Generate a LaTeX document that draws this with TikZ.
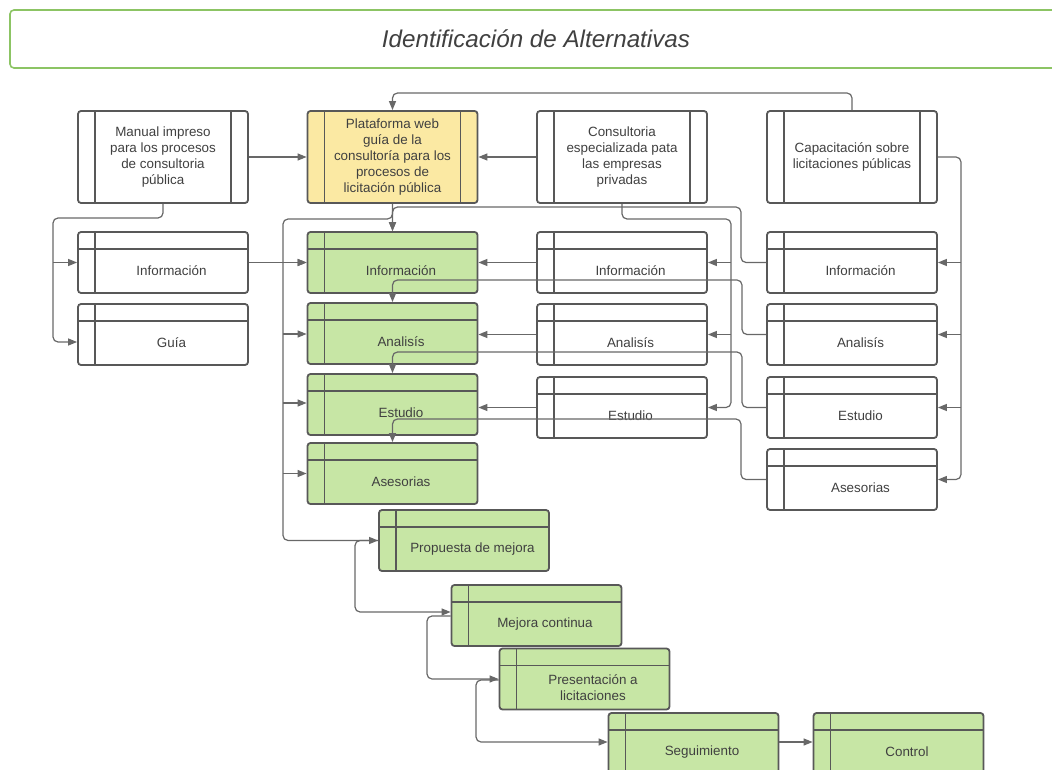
\documentclass[tikz,border=0pt]{standalone}
\usepackage{fontspec}
\setmainfont{Liberation Sans}
\usetikzlibrary{arrows.meta,calc}

\definecolor{edge}{RGB}{88,88,88}
\definecolor{wire}{RGB}{104,104,104}
\definecolor{ink}{RGB}{64,64,64}
\definecolor{leaf}{RGB}{199,230,165}
\definecolor{sand}{RGB}{251,233,163}
\definecolor{frame}{RGB}{140,196,100}

\tikzset{
  base/.style={draw=edge, line width=1.8pt, rounded corners=3pt, inner sep=0pt, fill=white},
  procbox/.style={base, minimum width=170pt, minimum height=92pt, text=ink, align=center,
    font=\fontsize{13.4}{16}\selectfont,
    path picture={
      \draw[edge,line width=1.9pt] ([xshift=17pt]path picture bounding box.north west) -- ([xshift=17pt]path picture bounding box.south west);
      \draw[edge,line width=1.9pt] ([xshift=-17pt]path picture bounding box.north east) -- ([xshift=-17pt]path picture bounding box.south east);}},
  tblbox/.style={base, minimum width=170pt, minimum height=61pt,
    path picture={
      \draw[edge,line width=1.9pt] ([xshift=17pt]path picture bounding box.north west) -- ([xshift=17pt]path picture bounding box.south west);
      \draw[edge,line width=1.9pt] ([yshift=-17pt]path picture bounding box.north west) -- ([yshift=-17pt]path picture bounding box.north east);}},
  lbl/.style={text=ink, font=\fontsize{13.4}{16}\selectfont, align=center, inner sep=0pt},
  titlebox/.style={draw=frame, line width=1.6pt, rounded corners=4pt, minimum width=1052pt,
    minimum height=58pt, text=ink, font=\fontsize{24.2}{28}\selectfont\itshape},
  conn/.style={draw=wire, line width=1.2pt, rounded corners=5pt},
  arr/.style={conn, -{Triangle[length=9pt,width=7pt]}},
}

% table-style box: frame node plus its caption node
\newcommand\tablebox[4]{%
  \node[tblbox,fill=#4] (#1) at (#2) {};
  \node[lbl] (#1t) at ($(#1.center)+(8.5,8.5)$) {#3};}

\begin{document}
\begin{tikzpicture}[x=1pt,y=-1pt]
\useasboundingbox (0,0) rectangle (1052,770);
\clip (0,0) rectangle (1052,770);

% heading
\node[titlebox] (title) at (536,39) {Identificación de Alternativas};

% top row
\node[procbox] (manual) at (163,157) {Manual impreso\\para los procesos\\de consultoria\\pública};
\node[procbox,fill=sand] (plat) at (392.5,157) {Plataforma web\\guía de la\\consultoría para los\\procesos de\\licitación pública};
\node[procbox] (cons) at (622,157) {Consultoria\\especializada pata\\las empresas\\privadas};
\node[procbox] (cap) at (852,157) {Capacitación sobre\\licitaciones públicas};

% left column
\tablebox{linfo}{163,262.5}{Información}{white}
\tablebox{lguia}{163,334.5}{Guía}{white}

% green column
\tablebox{ginfo}{392.5,262.5}{Información}{leaf}
\tablebox{ganal}{392.5,333.5}{Analisís}{leaf}
\tablebox{gest}{392.5,404.5}{Estudio}{leaf}
\tablebox{gases}{392.5,473.5}{Asesorias}{leaf}

% consultancy column
\tablebox{cinfo}{622,262.5}{Información}{white}
\tablebox{canal}{622,334.5}{Analisís}{white}
\tablebox{cest}{622,407.5}{Estudio}{white}

% training column
\tablebox{kinfo}{852,262.5}{Información}{white}
\tablebox{kanal}{852,334.5}{Analisís}{white}
\tablebox{kest}{852,407.5}{Estudio}{white}
\tablebox{kases}{852,479.5}{Asesorias}{white}

% cascade
\tablebox{prop}{464,540.5}{Propuesta de mejora}{leaf}
\tablebox{mej}{536.5,615.5}{Mejora continua}{leaf}
\tablebox{pres}{584.5,679}{Presentación a\\licitaciones}{leaf}
\tablebox{seg}{693.5,743.5}{Seguimiento}{leaf}
\tablebox{ctrl}{898.5,743.5}{Control}{leaf}

% bus turning points
\coordinate (mb) at (53,218);
\coordinate (pb) at (283,219);
\coordinate (cb) at (731,219);
\coordinate (kb) at (961,157);

% top row links
\draw[arr] (cap.north) -- (cap.north |- 0,93) -| (plat.north);
\draw[arr] (manual.east) -- (plat.west);
\draw[arr] (cons.west) -- (plat.east);

% manual to its parts
\draw[arr] (manual.south) |- (mb) |- (lguia.west |- 0,342);
\draw[arr] (mb |- linfo.west) -- (linfo.west);
\draw[arr] (linfo.east) -- (ginfo.west);

% platform to its parts
\draw[arr] (plat.south) -- (ginfo.north);
\draw[arr] (plat.south) |- (pb) |- (prop.west);
\draw[arr] (pb |- ginfo.west) -- (ginfo.west);
\draw[arr] (pb |- 0,334) -- (ganal.west |- 0,334);
\draw[arr] (pb |- 0,403) -- (gest.west |- 0,403);
\draw[arr] (pb |- gases.west) -- (gases.west);

% consultancy to its parts
\draw[arr] (cons.south) |- (cb) |- (cest.east);
\draw[arr] (cb |- cinfo.east) -- (cinfo.east);
\draw[arr] (cb |- canal.east) -- (canal.east);
\draw[arr] (cinfo.west) -- (ginfo.east);
\draw[arr] (canal.west) -- (canal.west -| ganal.east);
\draw[arr] (cest.west) -- (cest.west -| gest.east);

% training to its parts
\draw[arr] (cap.east) -- (kb) |- (kases.east);
\draw[arr] (kb |- kinfo.east) -- (kinfo.east);
\draw[arr] (kb |- kanal.east) -- (kanal.east);
\draw[arr] (kb |- kest.east) -- (kest.east);
\draw[arr] (kinfo.west) -| (741,207) -| (ginfo.north);
\draw[arr] (kanal.west) -| (742,280) -| (ganal.north);
\draw[arr] (kest.west) -| (742,352) -| (gest.north);
\draw[arr] (kases.west) -| (741,419) -| (gases.north);

% improvement cascade
\draw[arr] (prop.west) -| (355,580) |- (mej.west |- 0,612);
\draw[arr] (mej.west |- 0,616) -| (427,650) |- (pres.west);
\draw[arr] (pres.west |- 0,680) -| (476,710) |- (seg.west |- 0,742);
\draw[arr] (seg.east |- 0,742) -- (ctrl.west |- 0,742);
\end{tikzpicture}
\end{document}
